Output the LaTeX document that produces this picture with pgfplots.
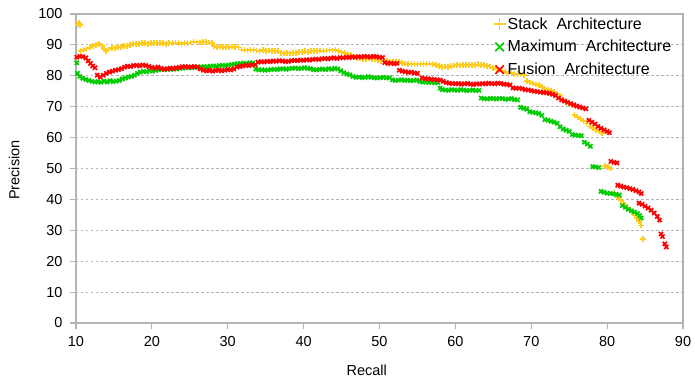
\documentclass[border=0pt]{standalone}
\usepackage{fontspec}
\setmainfont{Liberation Sans}
\usepackage{pgfplots}
\pgfplotsset{compat=1.18}
\definecolor{cyel}{HTML}{FFCC22}
\definecolor{cgrn}{HTML}{00CC00}
\definecolor{cred}{HTML}{FF0000}
\definecolor{caxis}{HTML}{B3B3B3}
\begin{document}
\begin{tikzpicture}
\path[use as bounding box] (-76pt,-56pt) rectangle (619pt,323pt);
\begin{axis}[
  at={(0pt,0pt)}, anchor=south west,
  scale only axis, width=607pt, height=309pt,
  xmin=10, xmax=90, ymin=0, ymax=100,
  xtick={10,20,...,90}, ytick={0,10,...,100},
  axis line style={caxis, line width=1.1pt},
  tick style={caxis, line width=1.1pt},
  tick align=outside, major tick length=6pt,
  xtick pos=bottom, ytick pos=left,
  ymajorgrids,
  major grid style={caxis, dash pattern=on 2.5pt off 2.5pt, line width=0.8pt},
  /pgf/number format/assume math mode=true,
  ticklabel style={font=\fontsize{14.5}{16}\selectfont},
  xticklabel style={yshift=-4pt},
  yticklabel style={xshift=-4pt},
  xlabel={Recall}, ylabel={Precision},
  label style={font=\fontsize{14.5}{16}\selectfont},
  xlabel style={at={(axis description cs:0.479,-0.152)}, anchor=center},
  ylabel style={at={(axis description cs:-0.102,0.495)}, anchor=center, rotate=0},
  clip=false,
  legend style={draw=none, fill=none, at={(axis description cs:0.686,1.0)}, anchor=north west, yshift=-0.5pt,
    font=\fontsize{16}{18}\selectfont, row sep=5.6pt, inner sep=1pt},
  legend cell align=left,
  legend image post style={mark size=6pt, line width=1.6pt},
  every axis plot/.append style={only marks, mark size=2.9pt, mark options={line width=1.7pt}},
]
\addplot[cyel, mark=+] coordinates {
(10.2,96.5) (10.4,97.0) (10.5,96.4)
(10.6,88.0) (11.0,88.3) (11.4,88.8) (11.8,89.2) (12.2,89.6) (12.6,90.0) (13.0,90.2) (13.4,89.8) (13.7,88.6) (14.0,88.0) (14.3,88.5) (14.7,88.9) (15.1,89.0) (15.5,89.3) (15.9,89.4) (16.3,89.6) (16.7,89.7) (17.1,89.9) (17.5,90.2) (17.9,90.4) (18.3,90.3) (18.7,90.5) (19.1,90.6) (19.5,90.4) (19.9,90.6) (20.3,90.7) (20.7,90.5) (21.1,90.7) (21.5,90.6) (21.9,90.4) (22.3,90.6) (22.7,90.5) (23.1,90.8) (23.5,90.6) (23.9,90.3) (24.3,90.5) (24.7,90.7) (25.1,90.8) (25.5,90.9) (25.9,90.9) (26.3,90.8) (26.7,91.0) (27.1,90.9) (27.5,90.8) (27.9,90.7) (28.2,89.6) (28.6,89.3) (29.0,89.5) (29.4,89.2) (29.8,89.4) (30.2,89.3) (30.6,89.5) (31.0,89.4) (31.4,89.2) (31.8,88.5) (32.2,88.3) (32.6,88.2) (33.0,88.4) (33.4,88.3) (33.8,88.2) (34.2,88.1) (34.6,88.3) (35.0,88.0) (35.4,88.2) (35.8,88.1) (36.2,88.0) (36.6,87.9) (37.0,87.5) (37.4,87.2) (37.8,87.3) (38.2,87.2) (38.6,87.4) (39.0,87.3) (39.4,87.6) (39.8,87.8) (40.2,87.9) (40.6,87.8) (41.0,88.0) (41.4,88.1) (41.8,88.0) (42.2,88.2) (42.6,88.1) (43.0,88.2) (43.4,88.3) (43.8,88.2) (44.2,88.3) (44.6,88.1) (45.0,87.7) (45.4,87.3) (45.8,87.0) (46.2,86.7) (46.6,86.2) (47.0,85.8) (47.4,85.6) (47.8,85.5) (48.2,85.4) (48.6,85.6) (49.0,85.3) (49.4,85.4) (49.8,85.1) (50.2,84.8) (50.6,84.6) (51.0,84.7) (51.4,84.5) (51.8,84.6) (52.2,84.4) (52.6,84.5) (53.0,84.2) (53.4,84.0) (53.8,83.8) (54.2,83.9) (54.6,83.7) (55.0,83.8) (55.4,83.9) (55.8,83.7) (56.2,83.8) (56.6,84.0) (57.0,83.8) (57.4,83.4) (57.8,83.1) (58.2,82.9) (58.6,83.0) (59.0,82.8) (59.4,83.1) (59.8,83.3) (60.2,83.4) (60.6,83.3) (61.0,83.5) (61.4,83.4) (61.8,83.6) (62.2,83.4) (62.6,83.5) (63.0,83.7) (63.4,83.5) (63.8,83.4) (64.2,83.2) (64.6,83.0) (65.0,82.6) (65.4,82.2) (65.8,81.8) (66.2,81.5) (66.6,81.2) (67.0,81.0) (67.4,80.8) (67.8,80.6) (68.2,80.5) (68.6,80.4) (69.0,80.2) (69.4,78.3) (69.8,77.8) (70.2,77.5) (70.6,77.2) (71.0,77.0) (71.4,76.4) (71.8,75.8) (72.2,75.4) (72.6,75.1) (73.0,74.8) (73.4,74.3) (73.8,73.6) (74.2,72.2) (74.6,71.6) (75.0,71.0) (75.4,70.6) (75.7,67.4) (76.1,66.6) (76.5,66.0) (76.9,65.4) (77.3,64.6) (77.7,63.6) (78.1,63.0) (78.5,62.5) (78.9,62.0) (79.3,61.6) (79.7,50.8) (80.1,50.4) (80.5,50.0) (80.9,42.2) (81.2,41.4) (81.5,40.5) (81.8,39.8) (82.1,39.0) (82.4,38.2) (82.7,37.4) (83.0,36.5) (83.3,35.8) (83.6,35.0) (83.9,34.0) (84.2,33.0) (84.5,31.6) (84.7,27.2)
};
\addlegendentry{Stack\ \ Architecture}
\addplot[cgrn, mark=x] coordinates {
(10.1,84.2) (10.2,80.8) (10.5,79.8) (10.9,79.2) (11.3,78.8) (11.7,78.5) (12.1,78.2) (12.5,78.0) (12.9,78.1) (13.3,77.9) (13.7,78.3) (14.1,78.0) (14.5,78.4) (14.9,78.1) (15.3,78.3) (15.7,78.5) (16.1,79.0) (16.5,79.3) (16.9,79.6) (17.3,79.8) (17.7,80.2) (18.1,80.8) (18.5,81.2) (18.9,81.4) (19.3,81.3) (19.7,81.6) (20.1,81.5) (20.5,81.8) (20.9,81.9) (21.3,82.1) (21.7,82.0) (22.1,82.2) (22.5,82.1) (22.9,82.3) (23.3,82.2) (23.7,82.4) (24.1,82.5) (24.5,82.6) (24.9,82.7) (25.3,82.6) (25.7,82.8) (26.1,82.7) (26.5,82.9) (26.9,83.0) (27.3,82.9) (27.7,83.1) (28.1,83.2) (28.5,83.1) (28.9,83.3) (29.3,83.4) (29.7,83.3) (30.1,83.5) (30.5,83.6) (30.9,83.8) (31.3,83.9) (31.7,84.0) (32.1,84.1) (32.5,84.0) (32.9,84.2) (33.3,84.1) (33.7,82.2) (34.1,81.9) (34.5,82.0) (34.9,81.8) (35.3,81.9) (35.7,82.0) (36.1,82.1) (36.5,82.0) (36.9,82.2) (37.3,82.3) (37.7,82.1) (38.1,82.3) (38.5,82.4) (38.9,82.5) (39.3,82.3) (39.7,82.4) (40.1,82.6) (40.5,82.4) (40.9,82.3) (41.3,82.0) (41.7,81.9) (42.1,82.1) (42.5,82.2) (42.9,82.0) (43.3,82.3) (43.7,82.1) (44.1,82.4) (44.5,82.2) (44.9,81.6) (45.3,81.0) (45.7,80.6) (46.1,80.3) (46.5,79.8) (46.9,79.5) (47.3,79.6) (47.7,79.4) (48.1,79.5) (48.5,79.7) (48.9,79.5) (49.3,79.4) (49.7,79.3) (50.1,79.4) (50.5,79.5) (50.9,79.3) (51.3,79.4) (51.7,78.7) (52.1,78.5) (52.5,78.6) (52.9,78.7) (53.3,78.5) (53.7,78.6) (54.1,78.4) (54.5,78.5) (54.9,78.6) (55.3,78.2) (55.7,77.9) (56.1,78.0) (56.5,77.8) (56.9,77.9) (57.3,77.7) (57.7,77.8) (58.0,76.0) (58.3,75.5) (58.7,75.4) (59.1,75.3) (59.5,75.5) (59.9,75.4) (60.3,75.3) (60.7,75.5) (61.1,75.4) (61.5,75.2) (61.9,75.3) (62.3,75.4) (62.7,75.2) (63.1,75.3) (63.4,72.8) (63.8,72.6) (64.2,72.5) (64.6,72.7) (65.0,72.6) (65.4,72.5) (65.8,72.7) (66.2,72.6) (66.6,72.4) (67.0,72.5) (67.4,72.6) (67.8,72.3) (68.2,72.2) (68.6,69.8) (69.0,69.5) (69.4,69.2) (69.8,68.4) (70.2,68.2) (70.6,68.0) (71.0,67.8) (71.4,67.2) (71.8,65.8) (72.2,65.6) (72.6,65.3) (73.0,65.0) (73.4,64.6) (73.8,63.5) (74.2,62.8) (74.6,62.4) (75.0,62.0) (75.4,61.0) (75.8,60.8) (76.2,60.7) (76.6,60.6) (77.0,58.5) (77.4,57.9) (77.8,57.2) (78.1,50.6) (78.5,50.5) (78.9,50.3) (79.2,42.6) (79.6,42.3) (80.0,42.0) (80.4,41.9) (80.8,41.8) (81.2,41.6) (81.6,41.4) (82.0,38.0) (82.4,37.4) (82.8,36.8) (83.2,36.3) (83.6,35.9) (84.0,35.4) (84.3,34.8) (84.5,34.0)
};
\addlegendentry{Maximum\ \ Architecture}
\addplot[cred, mark=x] coordinates {
(10.1,86.0) (10.5,86.3) (10.9,86.2) (11.3,85.8) (11.6,84.8) (11.9,84.0) (12.2,83.2) (12.5,82.6) (12.8,80.2) (13.2,79.6) (13.6,80.2) (14.0,80.8) (14.4,81.2) (14.8,81.5) (15.2,81.8) (15.6,82.0) (16.0,82.3) (16.4,82.8) (16.8,83.1) (17.2,83.0) (17.6,83.3) (18.0,83.4) (18.4,83.2) (18.8,83.5) (19.2,83.3) (19.6,83.0) (20.0,82.7) (20.4,82.5) (20.8,82.8) (21.2,82.4) (21.6,82.1) (22.0,82.2) (22.4,82.5) (22.8,82.3) (23.2,82.6) (23.6,82.7) (24.0,82.9) (24.4,83.0) (24.8,82.8) (25.2,82.9) (25.6,83.0) (26.0,82.8) (26.4,82.2) (26.8,81.8) (27.2,81.6) (27.6,81.8) (28.0,81.5) (28.4,81.7) (28.8,81.9) (29.2,81.6) (29.6,81.8) (30.0,82.0) (30.4,81.9) (30.8,82.2) (31.2,82.8) (31.6,83.0) (32.0,83.2) (32.4,83.4) (32.8,83.3) (33.2,83.5) (33.6,83.6) (34.0,84.4) (34.4,84.6) (34.8,84.5) (35.2,84.7) (35.6,84.6) (36.0,84.8) (36.4,84.7) (36.8,84.9) (37.2,84.8) (37.6,84.6) (38.0,84.7) (38.4,84.9) (38.8,85.0) (39.2,84.9) (39.6,85.1) (40.0,85.0) (40.4,85.2) (40.8,85.1) (41.2,85.3) (41.6,85.4) (42.0,85.3) (42.4,85.5) (42.8,85.6) (43.2,85.5) (43.6,85.7) (44.0,85.8) (44.4,85.6) (44.8,85.9) (45.2,85.8) (45.6,86.0) (46.0,85.9) (46.4,86.1) (46.8,86.0) (47.2,86.2) (47.6,86.1) (48.0,86.3) (48.4,86.2) (48.8,86.1) (49.2,86.3) (49.6,86.2) (50.0,86.0) (50.4,85.9) (50.7,84.3) (51.1,84.0) (51.5,84.1) (51.9,83.9) (52.3,84.0) (52.6,81.8) (53.0,81.5) (53.4,81.3) (53.8,81.1) (54.2,81.2) (54.6,80.9) (55.0,80.8) (55.6,79.3) (56.0,79.1) (56.4,79.0) (56.8,78.9) (57.2,78.8) (57.6,78.7) (58.0,78.6) (58.4,78.2) (58.8,77.8) (59.2,77.6) (59.6,77.5) (60.0,77.4) (60.4,77.5) (60.8,77.3) (61.2,77.4) (61.6,77.5) (62.0,77.3) (62.4,77.2) (62.8,77.4) (63.2,77.3) (63.6,77.5) (64.0,77.4) (64.4,77.6) (64.8,77.5) (65.2,77.4) (65.6,77.6) (66.0,77.5) (66.4,77.3) (66.8,77.2) (67.2,77.0) (67.6,76.1) (68.0,75.9) (68.4,76.0) (68.8,75.8) (69.2,75.5) (69.6,75.4) (70.0,75.2) (70.4,75.0) (70.8,74.9) (71.2,74.7) (71.6,74.6) (72.0,74.5) (72.4,74.3) (72.8,74.0) (73.2,73.6) (73.6,72.8) (74.0,72.2) (74.4,71.8) (74.8,71.4) (75.2,71.0) (75.6,70.6) (76.0,70.2) (76.4,69.9) (76.8,69.6) (77.2,69.3) (77.6,65.6) (78.0,65.0) (78.4,64.4) (78.8,63.6) (79.2,63.0) (79.6,62.5) (80.0,62.0) (80.3,61.6) (80.5,52.3) (80.9,52.0) (81.3,51.8) (81.4,44.6) (81.8,44.3) (82.2,44.0) (82.6,43.8) (83.0,43.5) (83.4,43.2) (83.8,42.8) (84.2,42.4) (84.5,41.9) (84.2,38.8) (84.6,38.4) (85.0,37.8) (85.4,37.2) (85.8,36.5) (86.2,35.6) (86.6,34.5) (86.9,33.3) (87.1,28.8) (87.3,28.0) (87.6,25.6) (87.8,24.6)
};
\addlegendentry{Fusion\ \ Architecture}
\end{axis}
\end{tikzpicture}
\end{document}
